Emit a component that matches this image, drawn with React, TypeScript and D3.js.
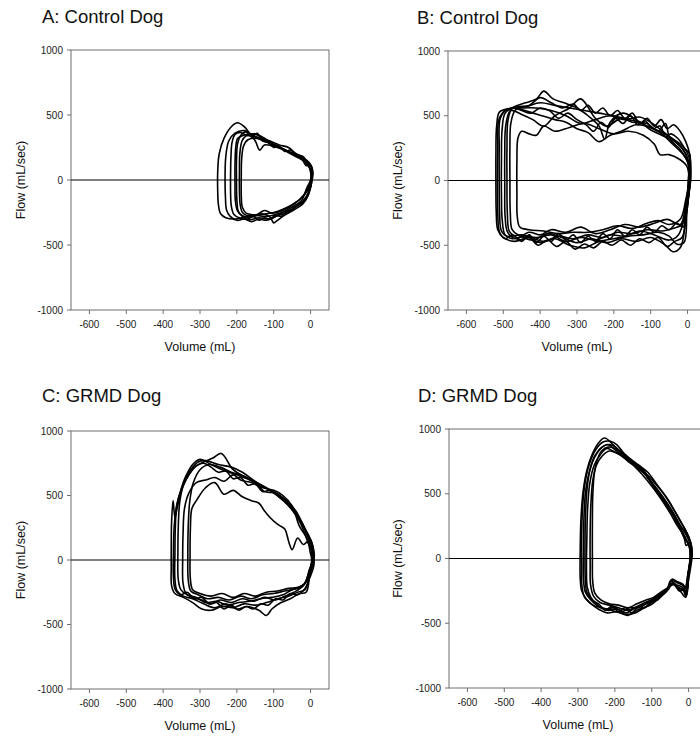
import React from "react";
import * as d3 from "d3";

// axis ticks and titles
const xTicks = [-600, -500, -400, -300, -200, -100, 0];
const yTicks = [-1000, -500, 0, 500, 1000];
const titles = ["A: Control Dog", "B: Control Dog", "C: GRMD Dog", "D: GRMD Dog"];
const xLabel = "Volume (mL)";
const yLabel = "Flow (mL/sec)";

// A: control dog, loops as [volume, flow]
const a1 = [[3,0],[0,80],[-12,130],[-30,170],[-55,210],[-80,245],[-110,280],[-135,310],[-160,345],[-180,410],[-198,440],[-215,410],[-235,320],[-248,200],[-252,60],[-252,-80],[-250,-190],[-244,-260],[-230,-290],[-205,-300],[-180,-285],[-155,-275],[-130,-265],[-100,-250],[-75,-225],[-50,-190],[-25,-140],[-8,-80]];
const a2 = [[2,0],[-2,90],[-15,140],[-35,180],[-60,220],[-90,255],[-115,290],[-135,330],[-150,355],[-170,340],[-190,365],[-205,350],[-213,290],[-216,180],[-217,40],[-217,-100],[-215,-200],[-208,-265],[-190,-295],[-165,-305],[-140,-290],[-115,-300],[-95,-280],[-70,-255],[-45,-215],[-22,-170],[-6,-100]];
const a3 = [[4,20],[0,110],[-18,160],[-45,200],[-75,235],[-100,260],[-125,270],[-138,230],[-150,300],[-165,350],[-185,340],[-198,320],[-203,250],[-205,120],[-205,-30],[-204,-160],[-198,-240],[-185,-275],[-160,-285],[-135,-260],[-110,-285],[-100,-330],[-90,-310],[-70,-270],[-45,-230],[-20,-180],[-5,-110]];
const a4 = [[1,10],[-4,100],[-20,150],[-50,195],[-78,240],[-105,280],[-130,330],[-155,355],[-175,340],[-186,300],[-192,200],[-193,60],[-193,-80],[-191,-190],[-185,-250],[-170,-275],[-145,-265],[-125,-235],[-105,-255],[-80,-240],[-55,-205],[-30,-150],[-12,-90]];
const a5 = [[5,30],[2,110],[-10,150],[-35,185],[-65,225],[-95,270],[-120,300],[-145,320],[-170,310],[-182,260],[-187,160],[-188,20],[-188,-120],[-185,-210],[-175,-255],[-150,-270],[-120,-280],[-95,-265],[-70,-240],[-45,-200],[-25,-160],[-10,-60]];
const a6 = [[3,-20],[6,60],[-2,120],[-12,110],[-25,170],[-40,190],[-55,230],[-70,220],[-85,260],[-100,250],[-115,290],[-130,300],[-145,360],[-160,330],[-175,370],[-190,340],[-198,280],[-201,150],[-201,0],[-200,-150],[-196,-240],[-185,-280],[-170,-300],[-155,-280],[-140,-310],[-125,-290],[-110,-300],[-95,-270],[-80,-280],[-65,-240],[-50,-230],[-35,-190],[-20,-170],[-8,-120]];
const a7 = [[0,0],[2,100],[-8,130],[-20,180],[-38,200],[-60,250],[-85,270],[-110,300],[-130,320],[-155,340],[-180,380],[-205,360],[-222,300],[-230,180],[-232,20],[-231,-130],[-228,-230],[-218,-280],[-200,-310],[-180,-300],[-160,-320],[-140,-300],[-120,-310],[-100,-290],[-80,-260],[-60,-250],[-40,-200],[-20,-160],[-5,-90]];

// B: control dog
const b1 = [[8,0],[5,120],[-10,230],[-40,310],[-70,350],[-100,390],[-130,450],[-160,470],[-200,500],[-240,520],[-280,540],[-320,560],[-360,580],[-400,600],[-440,570],[-480,555],[-510,530],[-518,420],[-520,200],[-520,-50],[-519,-250],[-515,-380],[-500,-440],[-470,-470],[-430,-440],[-390,-470],[-350,-430],[-310,-450],[-270,-420],[-230,-440],[-190,-400],[-150,-410],[-110,-380],[-70,-390],[-40,-370],[-15,-340],[-3,-200]];
const b2 = [[5,20],[2,150],[-15,250],[-45,330],[-75,380],[-110,420],[-140,470],[-175,520],[-210,450],[-225,320],[-240,420],[-270,500],[-300,560],[-335,600],[-365,630],[-390,690],[-410,630],[-440,600],[-470,570],[-495,520],[-503,400],[-505,150],[-505,-100],[-503,-300],[-495,-420],[-475,-450],[-440,-430],[-400,-480],[-360,-450],[-320,-500],[-280,-520],[-240,-470],[-200,-450],[-160,-430],[-120,-420],[-80,-400],[-50,-430],[-30,-490],[-10,-480],[-2,-250]];
const b3 = [[3,0],[0,140],[-20,240],[-48,320],[-60,440],[-80,380],[-110,440],[-150,450],[-180,480],[-220,420],[-250,480],[-290,630],[-320,560],[-360,500],[-390,420],[-420,470],[-450,510],[-480,540],[-493,430],[-496,200],[-496,-50],[-495,-280],[-488,-400],[-465,-450],[-430,-400],[-400,-420],[-370,-380],[-330,-400],[-290,-360],[-250,-410],[-210,-380],[-170,-340],[-130,-360],[-90,-330],[-55,-300],[-20,-340],[-5,-180]];
const b4 = [[6,10],[3,130],[-12,200],[-40,280],[-70,360],[-100,410],[-140,430],[-180,380],[-210,350],[-240,300],[-270,370],[-300,400],[-330,450],[-360,470],[-395,500],[-430,530],[-465,550],[-479,450],[-482,250],[-482,0],[-481,-250],[-476,-380],[-460,-420],[-420,-460],[-380,-410],[-340,-440],[-300,-480],[-260,-450],[-220,-480],[-180,-450],[-140,-470],[-100,-440],[-60,-500],[-40,-550],[-20,-520],[-5,-300]];
const b5 = [[4,0],[-2,110],[-20,160],[-50,200],[-75,200],[-90,280],[-120,350],[-160,380],[-200,360],[-240,400],[-280,440],[-320,410],[-360,380],[-390,420],[-410,350],[-430,360],[-450,380],[-460,330],[-463,150],[-463,-100],[-462,-280],[-455,-360],[-430,-380],[-390,-390],[-350,-410],[-310,-400],[-270,-400],[-230,-380],[-190,-350],[-150,-370],[-110,-330],[-80,-310],[-50,-340],[-20,-300],[-5,-150]];
const b6 = [[7,30],[4,180],[-15,270],[-50,340],[-90,430],[-130,490],[-170,470],[-210,500],[-250,470],[-290,440],[-330,500],[-370,540],[-410,560],[-450,560],[-490,550],[-508,480],[-511,250],[-511,0],[-510,-250],[-505,-390],[-490,-430],[-450,-420],[-410,-440],[-370,-420],[-330,-470],[-290,-440],[-250,-460],[-210,-420],[-170,-430],[-130,-390],[-90,-420],[-50,-460],[-25,-420],[-6,-250]];
const b7 = [[2,10],[6,200],[-8,250],[-25,320],[-45,360],[-60,340],[-75,420],[-95,400],[-115,460],[-135,430],[-155,500],[-175,440],[-195,480],[-215,410],[-235,450],[-255,380],[-275,430],[-300,470],[-325,520],[-350,480],[-375,540],[-400,560],[-425,520],[-450,540],[-475,560],[-487,470],[-490,250],[-490,0],[-489,-250],[-484,-390],[-470,-430],[-450,-470],[-430,-420],[-410,-480],[-390,-430],[-370,-470],[-350,-410],[-330,-460],[-310,-420],[-290,-480],[-270,-430],[-250,-470],[-230,-410],[-210,-450],[-190,-380],[-170,-430],[-150,-380],[-130,-420],[-110,-360],[-90,-400],[-70,-350],[-50,-380],[-30,-330],[-12,-360],[-3,-200]];
const b8 = [[9,50],[6,200],[-5,300],[-20,380],[-38,430],[-55,400],[-72,470],[-90,420],[-110,480],[-130,440],[-150,520],[-170,480],[-190,540],[-210,500],[-230,560],[-250,520],[-270,580],[-290,540],[-310,590],[-340,560],[-370,600],[-400,640],[-430,580],[-460,570],[-495,540],[-512,470],[-515,250],[-516,0],[-515,-250],[-510,-400],[-495,-450],[-475,-420],[-455,-460],[-430,-440],[-405,-500],[-380,-460],[-355,-510],[-330,-470],[-305,-530],[-280,-490],[-255,-520],[-230,-470],[-205,-500],[-180,-460],[-155,-500],[-130,-450],[-105,-480],[-80,-440],[-55,-510],[-35,-470],[-15,-440],[-4,-260]];

// C: GRMD dog
const c1 = [[8,0],[5,90],[-8,180],[-22,280],[-40,380],[-65,460],[-95,520],[-130,570],[-165,620],[-200,660],[-240,700],[-270,740],[-300,780],[-320,740],[-340,640],[-350,560],[-362,400],[-368,330],[-373,460],[-377,300],[-378,100],[-378,-50],[-377,-200],[-368,-260],[-345,-290],[-320,-330],[-295,-380],[-270,-390],[-240,-360],[-210,-370],[-180,-340],[-150,-350],[-120,-330],[-90,-300],[-60,-280],[-35,-250],[-15,-230],[-3,-120]];
const c2 = [[6,20],[3,130],[-10,210],[-28,310],[-50,400],[-75,470],[-105,530],[-140,590],[-175,640],[-210,700],[-242,826],[-265,790],[-290,760],[-315,720],[-335,640],[-352,540],[-363,420],[-367,250],[-368,50],[-368,-150],[-362,-240],[-345,-280],[-320,-300],[-290,-340],[-260,-370],[-230,-340],[-200,-380],[-170,-360],[-140,-390],[-120,-430],[-105,-380],[-80,-330],[-55,-300],[-30,-260],[-12,-250],[-2,-100]];
const c3 = [[10,30],[6,110],[-5,190],[-20,260],[-38,350],[-62,430],[-90,500],[-120,560],[-150,610],[-185,680],[-215,720],[-250,740],[-285,770],[-305,760],[-325,700],[-345,580],[-355,450],[-359,250],[-360,50],[-359,-150],[-352,-230],[-335,-270],[-310,-290],[-285,-330],[-255,-320],[-225,-350],[-195,-330],[-165,-320],[-135,-300],[-105,-290],[-75,-270],[-50,-230],[-25,-210],[-8,-150]];
const c4 = [[4,0],[0,100],[-12,180],[-30,260],[-50,420],[-75,500],[-100,540],[-130,560],[-160,600],[-190,620],[-210,660],[-235,610],[-260,640],[-285,620],[-310,600],[-330,520],[-342,400],[-346,200],[-347,0],[-346,-180],[-338,-260],[-320,-290],[-295,-310],[-270,-340],[-245,-310],[-215,-330],[-185,-300],[-155,-320],[-125,-290],[-95,-310],[-70,-280],[-45,-250],[-20,-200],[-5,-100]];
const c5 = [[7,10],[4,130],[-8,200],[-25,300],[-45,390],[-70,470],[-95,520],[-125,530],[-150,600],[-180,650],[-215,680],[-245,720],[-275,740],[-300,700],[-318,600],[-328,450],[-332,250],[-333,50],[-332,-150],[-325,-240],[-305,-270],[-280,-300],[-250,-290],[-220,-310],[-190,-280],[-160,-300],[-130,-270],[-100,-260],[-70,-240],[-40,-220],[-15,-180],[-4,-80]];
const c6 = [[3,0],[-1,60],[-8,140],[-20,120],[-35,170],[-50,80],[-58,130],[-70,240],[-80,260],[-95,290],[-110,330],[-125,380],[-140,440],[-160,460],[-185,490],[-210,540],[-235,510],[-260,600],[-285,560],[-310,460],[-322,400],[-326,250],[-327,50],[-326,-150],[-320,-230],[-300,-260],[-270,-280],[-240,-260],[-210,-290],[-180,-260],[-150,-280],[-120,-250],[-90,-240],[-60,-220],[-30,-210],[-10,-160]];
const c7 = [[9,-40],[6,60],[-5,120],[-15,200],[-30,300],[-48,380],[-70,450],[-90,500],[-110,540],[-130,530],[-150,590],[-170,580],[-190,640],[-210,630],[-230,690],[-250,680],[-270,720],[-290,750],[-310,730],[-330,660],[-348,560],[-362,440],[-370,260],[-372,60],[-372,-140],[-367,-230],[-352,-270],[-335,-250],[-315,-300],[-295,-290],[-275,-340],[-255,-330],[-235,-380],[-215,-350],[-195,-390],[-175,-360],[-155,-380],[-135,-340],[-115,-350],[-95,-300],[-75,-310],[-55,-260],[-35,-270],[-15,-220],[-4,-150]];

// D: GRMD dog
const d1 = [[5,0],[3,80],[-10,170],[-30,250],[-50,350],[-70,440],[-95,540],[-120,630],[-150,720],[-180,800],[-205,880],[-228,930],[-245,890],[-262,800],[-276,680],[-286,520],[-292,300],[-294,50],[-294,-150],[-290,-250],[-278,-310],[-260,-360],[-235,-380],[-210,-400],[-185,-420],[-165,-440],[-140,-400],[-115,-370],[-90,-320],[-70,-280],[-55,-240],[-45,-190],[-30,-220],[-15,-240],[-8,-290],[-3,-150]];
const d2 = [[8,20],[5,110],[-8,190],[-25,270],[-45,370],[-68,470],[-92,560],[-118,650],[-145,730],[-172,790],[-198,860],[-215,880],[-235,860],[-255,780],[-270,660],[-280,500],[-284,300],[-285,50],[-285,-160],[-280,-260],[-265,-320],[-245,-370],[-220,-400],[-195,-390],[-170,-420],[-150,-390],[-125,-360],[-100,-330],[-80,-290],[-60,-250],[-48,-170],[-35,-200],[-18,-220],[-6,-270],[0,-100]];
const d3v = [[4,10],[1,100],[-12,160],[-28,260],[-48,360],[-72,460],[-98,570],[-122,680],[-135,700],[-160,740],[-185,800],[-205,830],[-222,850],[-240,800],[-256,720],[-268,580],[-274,380],[-276,150],[-277,-80],[-275,-220],[-265,-300],[-250,-350],[-228,-390],[-200,-380],[-180,-410],[-160,-380],[-135,-380],[-110,-340],[-88,-300],[-68,-260],[-52,-220],[-40,-200],[-25,-250],[-10,-230],[-2,-120]];
const d4 = [[6,0],[4,120],[-6,200],[-22,290],[-40,380],[-62,480],[-85,560],[-110,640],[-135,700],[-160,750],[-180,790],[-200,820],[-215,830],[-235,790],[-250,720],[-260,600],[-265,420],[-267,200],[-267,-50],[-266,-200],[-258,-290],[-240,-340],[-215,-360],[-190,-380],[-165,-400],[-140,-370],[-118,-340],[-95,-310],[-75,-270],[-58,-240],[-45,-170],[-30,-190],[-15,-210],[-6,-260],[1,-80]];
const d5 = [[7,30],[4,130],[-8,220],[-25,300],[-43,390],[-65,490],[-88,580],[-112,670],[-135,720],[-158,770],[-180,820],[-200,850],[-218,860],[-236,830],[-248,760],[-256,650],[-260,480],[-261,250],[-261,0],[-260,-180],[-254,-270],[-238,-320],[-215,-350],[-190,-360],[-165,-380],[-140,-350],[-115,-320],[-95,-300],[-75,-260],[-55,-220],[-45,-160],[-30,-180],[-15,-200],[-5,-240],[2,-60]];
const d6 = [[10,40],[6,120],[-5,200],[-20,240],[-38,330],[-58,420],[-80,510],[-108,610],[-125,690],[-150,740],[-175,810],[-195,880],[-212,905],[-232,900],[-252,840],[-268,740],[-280,600],[-287,420],[-290,200],[-290,-50],[-289,-220],[-282,-300],[-268,-340],[-245,-390],[-220,-420],[-195,-410],[-170,-430],[-145,-420],[-120,-380],[-98,-350],[-78,-300],[-62,-260],[-50,-200],[-35,-210],[-20,-260],[-8,-300],[-1,-180]];
const d7 = [[9,50],[4,130],[-6,100],[-15,200],[-28,250],[-42,340],[-58,400],[-76,490],[-95,560],[-115,640],[-135,690],[-155,740],[-178,790],[-200,840],[-220,880],[-238,850],[-255,790],[-268,680],[-276,520],[-280,300],[-281,50],[-280,-170],[-276,-260],[-262,-320],[-244,-350],[-226,-400],[-208,-370],[-190,-410],[-172,-380],[-154,-420],[-136,-370],[-118,-380],[-100,-330],[-84,-320],[-68,-270],[-55,-230],[-48,-170],[-38,-200],[-25,-230],[-12,-250],[-5,-280],[0,-120]];

const loopsByPanel = [
  [a1, a2, a3, a4, a5, a6, a7],
  [b1, b2, b3, b4, b5, b6, b7, b8],
  [c1, c2, c3, c4, c5, c6, c7],
  [d1, d2, d3v, d4, d5, d6, d7],
];

// panel frames (pixels)
const frames = [
  { left: 71, right: 329, top: 50, bottom: 310, titleX: 42, titleY: 23, yLabX: 21 },
  { left: 448, right: 706, top: 51, bottom: 310, titleX: 417, titleY: 24, yLabX: 398 },
  { left: 71, right: 329, top: 431, bottom: 689, titleX: 42, titleY: 402, yLabX: 21 },
  { left: 449, right: 707, top: 429, bottom: 688, titleX: 418, titleY: 402, yLabX: 398 },
];

const font = "'Liberation Sans', Arial, sans-serif";

function Panel({ idx }) {
  const f = frames[idx];
  const x = d3.scaleLinear().domain([-650, 50]).range([f.left, f.right]);
  const y = d3.scaleLinear().domain([-1000, 1000]).range([f.bottom, f.top]);
  const line = d3
    .line()
    .x((d) => x(d[0]))
    .y((d) => y(d[1]))
    .curve(d3.curveCatmullRomClosed.alpha(0.5));
  const axisCol = "#6e6e6e";
  const midY = (f.top + f.bottom) / 2;

  return (
    <g>
      <text x={f.titleX} y={f.titleY} fontSize={18.5} fill="#111" fontFamily={font}>
        {titles[idx]}
      </text>
      <rect x={f.left} y={f.top} width={f.right - f.left} height={f.bottom - f.top}
        fill="none" stroke={axisCol} strokeWidth={1} />
      {yTicks.map((t) => (
        <g key={"y" + t}>
          <line x1={f.left - 4} x2={f.left} y1={y(t)} y2={y(t)} stroke={axisCol} />
          <text x={f.left - 8} y={y(t)} dy="0.35em" textAnchor="end" fontSize={10}
            fill="#222" fontFamily={font}>{t}</text>
        </g>
      ))}
      {xTicks.map((t) => (
        <g key={"x" + t}>
          <line x1={x(t)} x2={x(t)} y1={f.bottom} y2={f.bottom + 4} stroke={axisCol} />
          <text x={x(t)} y={f.bottom + 18} textAnchor="middle" fontSize={10}
            fill="#222" fontFamily={font}>{t}</text>
        </g>
      ))}
      <line x1={f.left} x2={f.right} y1={y(0)} y2={y(0)} stroke="#000" strokeWidth={1} />
      {loopsByPanel[idx].map((pts, i) => (
        <path key={i} d={line(pts)} fill="none" stroke="#000" strokeWidth={1.6} />
      ))}
      <text x={(f.left + f.right) / 2} y={f.bottom + 41} textAnchor="middle" fontSize={12.5}
        fill="#111" fontFamily={font}>{xLabel}</text>
      <text transform={`translate(${f.yLabX},${midY}) rotate(-90)`} textAnchor="middle"
        dy="0.35em" fontSize={12.5} fill="#111" fontFamily={font}>{yLabel}</text>
    </g>
  );
}

export default function App() {
  return (
    <svg width={700} height={736} style={{ position: "absolute", left: 0, top: 0, background: "#fff" }}>
      <rect width={700} height={736} fill="#fff" />
      {[0, 1, 2, 3].map((i) => (
        <Panel key={i} idx={i} />
      ))}
    </svg>
  );
}
